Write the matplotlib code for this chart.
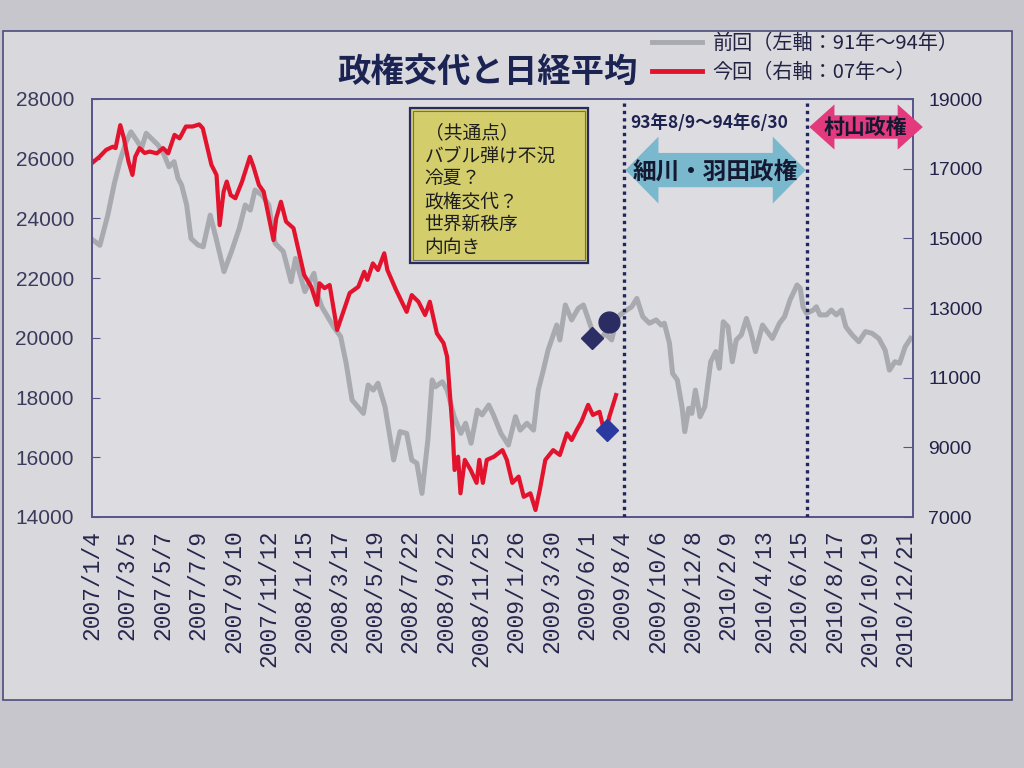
import numpy as np
import matplotlib
matplotlib.use('Agg')
import matplotlib.pyplot as plt
from matplotlib.patches import Rectangle, Polygon
from matplotlib.lines import Line2D

plt.rcParams['font.family'] = ['Noto Sans CJK JP', 'DejaVu Sans']

# x軸は週番号 (0 = 2007/1/4)、目盛りラベルは9週ごと
tick_labels = ['2007/1/4', '2007/3/5', '2007/5/7', '2007/7/9', '2007/9/10', '2007/11/12',
               '2008/1/15', '2008/3/17', '2008/5/19', '2008/7/22', '2008/9/22', '2008/11/25',
               '2009/1/26', '2009/3/30', '2009/6/1', '2009/8/4', '2009/10/6', '2009/12/8',
               '2010/2/9', '2010/4/13', '2010/6/15', '2010/8/17', '2010/10/19', '2010/12/21']
tick_step = 9
x_end = 209

# 前回 (左軸: 91年~94年)
gray_week = [0, 2, 4, 5.7, 7.2, 8.7, 9.9, 11.6, 12.6, 13.8,
             15.1, 16.8, 18.2, 19.6, 20.9, 21.9, 22.8, 24.1, 25.2, 27.0,
             28.3, 30.1, 31.6, 33.6, 35.5, 37.5, 39.0, 40.3, 41.5, 43.3,
             45.0, 46.6, 48.7, 50.7, 51.8, 54.2, 56.5, 57.6, 58.5, 61.5,
             63.3, 64.7, 66.2, 69.1, 70.3, 71.6, 72.8, 74.6, 76.8, 78.4,
             80.1, 81.4, 82.7, 84.0, 85.5, 86.6, 87.4, 89.2, 90.4, 92.2,
             93.9, 95.1, 96.5, 98.1, 99.3, 101.0, 102.2, 104.1, 106.0, 107.8,
             109.0, 110.7, 112.4, 113.6, 114.9, 116.1, 118.3, 119.1, 120.5, 122.1,
             123.8, 125.1, 126.7, 128.4, 130.6, 132.3, 133.5, 134.4, 136.1, 137.4,
             138.7, 140.2, 141.9, 143.6, 144.9, 145.7, 147.0, 147.8, 149.0, 150.2,
             150.9, 151.9, 152.7, 153.6, 154.8, 156.0, 157.5, 158.8, 159.7, 160.7,
             161.9, 163.0, 164.0, 165.3, 166.6, 167.8, 168.9, 170.7, 171.9, 173.2,
             175.0, 176.3, 177.7, 179.5, 180.3, 181.0, 181.9, 183.6, 184.4, 185.3,
             187.0, 188.2, 189.5, 190.8, 191.9, 193.5, 195.2, 196.9, 198.6, 200.3,
             201.9, 203.0, 204.4, 205.6, 207.0, 208.4]
gray_value = [23300, 23100, 24100, 25180, 25960, 26570, 26900, 26570, 26350, 26850,
              26680, 26460, 26180, 25730, 25900, 25340, 25120, 24450, 23330, 23110,
              23050, 24110, 23330, 22220, 22890, 23670, 24450, 24280, 24950, 24780,
              24450, 23170, 22890, 21880, 22660, 21550, 22160, 21380, 21040, 20370,
              20040, 19150, 17920, 17470, 18420, 18250, 18480, 17690, 15910, 16860,
              16800, 15910, 15800, 14790, 16580, 18590, 18360, 18530, 18250, 17360,
              16800, 17140, 16470, 17580, 17420, 17750, 17420, 16800, 16410, 17360,
              16910, 17140, 16910, 18250, 18920, 19590, 20430, 19930, 21100, 20600,
              20990, 21100, 20490, 19820, 20150, 19930, 20600, 20770, 20930, 21040,
              21320, 20710, 20490, 20600, 20430, 20490, 19820, 18810, 18590, 17690,
              16860, 17640, 17470, 18250, 17360, 17690, 19200, 19540, 18980, 20540,
              20370, 19200, 19930, 20100, 20650, 20150, 19540, 20430, 20210, 19980,
              20490, 20710, 21270, 21770, 21660, 21040, 20820, 20930, 21040, 20770,
              20770, 20930, 20770, 20930, 20370, 20100, 19870, 20210, 20150, 19980,
              19590, 18920, 19200, 19150, 19700, 19980]

# 今回 (右軸: 07年~)
red_week = [0, 1.9, 3.6, 5.3, 6.0, 7.2, 8.1, 9.3, 10.3, 11.0,
            12.1, 13.4, 14.7, 16.5, 18.1, 19.4, 21.0, 22.3, 23.9, 25.6,
            27.3, 28.2, 30.4, 31.7, 32.5, 33.5, 34.3, 35.3, 36.5, 38.2,
            40.2, 41.1, 42.5, 43.7, 46.2, 46.9, 48.1, 49.4, 51.3, 54.0,
            55.8, 57.3, 57.9, 59.2, 60.5, 62.4, 65.6, 67.8, 69.3, 70.1,
            71.5, 72.8, 74.4, 75.2, 77.4, 80.1, 81.4, 83.1, 84.8, 86.0,
            87.8, 89.5, 90.4, 91.8, 92.3, 93.2, 93.8, 94.9, 96.4, 97.9,
            98.6, 99.5, 100.5, 102.3, 104.5, 105.6, 107.0, 108.6, 109.9, 111.6,
            112.9, 114.0, 115.4, 117.4, 119.1, 120.9, 122.1, 123.4, 124.6, 126.3,
            127.5, 129.2, 130.6, 131.7, 133.4]
red_value = [17160, 17340, 17540, 17630, 17590, 18250, 17880, 17200, 16820, 17340,
             17590, 17450, 17490, 17440, 17590, 17440, 17970, 17870, 18210, 18210,
             18270, 18160, 17110, 16820, 15380, 16340, 16630, 16240, 16150, 16630,
             17340, 17060, 16530, 16340, 14950, 15580, 16050, 15480, 15290, 13950,
             13610, 13090, 13710, 13570, 13660, 12370, 13430, 13610, 14040, 13810,
             14280, 14090, 14570, 14090, 13520, 12890, 13370, 13180, 12800, 13180,
             12270, 11990, 11600, 9500, 8350, 8730, 7680, 8640, 8350, 7980,
             8640, 7980, 8640, 8730, 8920, 8640, 7980, 8160, 7580, 7680,
             7200, 7780, 8640, 8920, 8780, 9400, 9210, 9500, 9740, 10220,
             9930, 10020, 9350, 9880, 10500]

# 記号
navy_diamond = (127.2, 19990)   # 左軸
navy_circle = (131.5, 20540)    # 左軸
blue_diamond = (131.0, 9500)    # 右軸

# 政権期間 (週番号)
hosokawa_start, hosokawa_end = 135.5, 182.0

box_lines = ['（共通点）', 'バブル弾け不況', '冷夏？', '政権交代？', '世界新秩序', '内向き']
legend_labels = ['前回（左軸：91年～94年）', '今回（右軸：07年～）']

NAVY = '#23265e'
GRAY = '#a8aab0'
RED = '#e3132d'


def double_arrow(axis, x0, x1, yc, head_h, shaft_h, head_len, color):
    pts = [(x0, yc), (x0 + head_len, yc + head_h), (x0 + head_len, yc + shaft_h),
           (x1 - head_len, yc + shaft_h), (x1 - head_len, yc + head_h), (x1, yc),
           (x1 - head_len, yc - head_h), (x1 - head_len, yc - shaft_h),
           (x0 + head_len, yc - shaft_h), (x0 + head_len, yc - head_h)]
    axis.add_patch(Polygon(pts, closed=True, transform=axis.get_xaxis_transform(),
                           facecolor=color, edgecolor='none', clip_on=False, zorder=4))


fig = plt.figure(figsize=(10.24, 7.68), dpi=100)
fig.patch.set_facecolor('#c6c6cc')
fig.add_artist(Rectangle((3 / 1024, 1 - 700 / 768), 1009 / 1024, 669 / 768,
                         transform=fig.transFigure, facecolor='#d8d8dd',
                         edgecolor='#4c4c7c', lw=1.2, zorder=0))

ax = fig.add_axes([92 / 1024, 1 - 517 / 768, 821 / 1024, 418 / 768])
ax.set_facecolor('#dcdce1')
ax2 = ax.twinx()

ax.plot(gray_week, gray_value, color=GRAY, lw=3.6, solid_joinstyle='round', zorder=2)
ax2.plot(red_week, red_value, color=RED, lw=3.0, solid_joinstyle='round', zorder=2)

ax.plot(*navy_diamond, marker='D', ms=11, color='#2c2e66', zorder=5)
ax.plot(*navy_circle, marker='o', ms=15, color='#2a2c62', zorder=5)
ax2.plot(*blue_diamond, marker='D', ms=11, color='#2b3a9e', zorder=5)

# 軸
ax.set_xlim(0, x_end)
ax.set_xticks(np.arange(len(tick_labels)) * tick_step)
ax.set_xticklabels(tick_labels, rotation=90, fontfamily='Liberation Mono',
                   fontsize=16.5, color='#26264e')
ax.tick_params(axis='x', length=0, pad=9)

ax.set_ylim(14000, 28000)
ax.set_yticks(range(14000, 28001, 2000))
ax.tick_params(axis='y', direction='in', length=6, pad=13, labelsize=15,
               color='#55558a', labelcolor='#3a3a5c')
for lbl in ax.get_yticklabels():
    lbl.set_fontfamily('Liberation Sans')

ax2.set_ylim(7000, 19000)
ax2.set_yticks(range(7000, 19001, 2000))
ax2.tick_params(axis='y', direction='in', length=7, pad=11, labelsize=14,
                color='#55558a', labelcolor='#22224a')
for lbl in ax2.get_yticklabels():
    lbl.set_fontfamily('Liberation Sans')

for a in (ax, ax2):
    for sp in a.spines.values():
        sp.set_color('#55558a')
        sp.set_linewidth(1.2)

# 期間の点線
for xv in (hosokawa_start, hosokawa_end):
    ax2.axvline(xv, color=NAVY, lw=2.4, linestyle=(0, (1, 1.2)), zorder=3)

# 矢印
double_arrow(ax2, hosokawa_start + 0.3, hosokawa_end - 0.3, 0.830, 0.080, 0.041, 8.4, '#79b8cd')
double_arrow(ax2, hosokawa_end + 0.6, x_end + 2.5, 0.933, 0.054, 0.028, 6.4, '#e23a7c')

xt = ax2.get_xaxis_transform()
ax2.text(157, 0.943, '93年8/9～94年6/30', transform=xt, ha='center', va='center',
         fontsize=12.5, fontweight='bold', color='#1e2250', zorder=6)
ax2.text((hosokawa_start + hosokawa_end) / 2, 0.825, '細川・羽田政権', transform=xt,
         ha='center', va='center', fontsize=17, fontweight='bold', color='#141830', zorder=6)
ax2.text(197, 0.931, '村山政権', transform=xt, ha='center', va='center',
         fontsize=15, fontweight='bold', color='#141830', zorder=6, clip_on=False)

# 共通点ボックス
ax2.add_patch(Rectangle((0.387, 0.608), 0.217, 0.370, transform=ax2.transAxes,
                        facecolor='#d3ce6b', edgecolor='#2a2a60', lw=1.6, zorder=6))
ax2.add_patch(Rectangle((0.3907, 0.6152), 0.2096, 0.3556, transform=ax2.transAxes,
                        fill=False, edgecolor='#6e6e6e', lw=0.8, zorder=6))
ax2.text(0.405, 0.944, '\n'.join(box_lines), transform=ax2.transAxes, ha='left', va='top',
         fontsize=13.5, linespacing=1.12, color='#1e1e1e', zorder=7)

# タイトルと凡例
fig.text(487 / 1024, 1 - 72 / 768, '政権交代と日経平均', ha='center', va='center',
         fontsize=24, fontweight='bold', color='#1b2352')
handles = [Line2D([], [], color=GRAY, lw=3.5), Line2D([], [], color=RED, lw=3.5)]
fig.legend(handles, legend_labels, loc='upper left',
           bbox_to_anchor=(652 / 1024, 1 - 33 / 768), frameon=False, fontsize=14.5,
           handlelength=2.5, handletextpad=0.5, labelspacing=0.42, labelcolor='#222244',
           borderaxespad=0, borderpad=0)

fig.savefig('out.png', dpi=100, facecolor=fig.get_facecolor())
